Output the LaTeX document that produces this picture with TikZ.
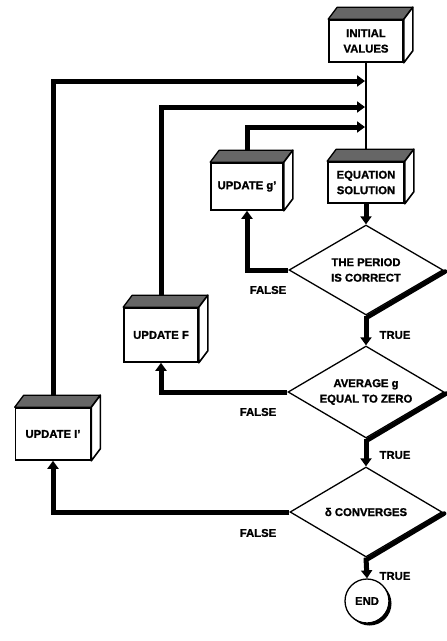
\documentclass[tikz,border=0pt]{standalone}
\usepackage{fontspec}
\setmainfont{Liberation Sans}[BoldFeatures={FakeBold=1.3}]
\usetikzlibrary{arrows.meta,shapes.geometric,calc}
\newcommand\mythreed[1]{%
  \filldraw[line width=1.3pt, fill=black!60, line join=round] (#1.north west) -- ++(9,-12) -- ($(#1.north east)+(9,-12)$) -- (#1.north east) -- cycle;
  \filldraw[line width=1.6pt, fill=white, line join=round] (#1.north east) -- ++(9,-12) -- ($(#1.south east)+(9,-12)$) -- (#1.south east) -- cycle;}
\begin{document}
\begin{tikzpicture}[x=1pt,y=-1pt,
  txt/.style={font=\fontsize{11.3}{15.5}\selectfont\bfseries, align=center},
  box/.style={txt, draw, line width=1.6pt, fill=white, inner sep=0pt},
  dec/.style={diamond, txt, draw, line width=1.3pt, fill=white, inner sep=0pt, aspect=1.7},
  flow/.style={line width=5pt, -{Triangle[width=11pt,length=8pt]}},
  shadowline/.style={line width=4.5pt, line cap=round}]
\useasboundingbox (0,0) rectangle (447,641);
% process boxes
\node[box, minimum width=74pt, minimum height=42pt] (init) at (366,41) {INITIAL\\VALUES};
\node[box, minimum width=76pt, minimum height=41pt] (eq) at (366,182.5) {EQUATION\\SOLUTION};
\node[box, minimum width=72pt, minimum height=47pt] (ug) at (247,186.5) {UPDATE g'};
\node[box, minimum width=74pt, minimum height=54pt] (uf) at (161,335) {UPDATE F};
\node[box, minimum width=75pt, minimum height=52pt] (ui) at (53,434) {UPDATE I'};
% decisions
\node[dec, minimum width=154pt, minimum height=90pt] (d1) at (366,270) {THE PERIOD\\IS CORRECT};
\node[dec, minimum width=156pt, minimum height=92pt] (d2) at (366,392) {AVERAGE g\\EQUAL TO ZERO};
\node[dec, minimum width=152pt, minimum height=90pt] (d3) at (366,512) {δ CONVERGES};
\draw[shadowline] ([shift={(1.5,1.5)}]d1.east) -- ([shift={(1.5,1.5)}]d1.south);
\draw[shadowline] ([shift={(1.5,1.5)}]d2.east) -- ([shift={(1.5,1.5)}]d2.south);
\draw[shadowline] ([shift={(1.5,1.5)}]d3.east) -- ([shift={(1.5,1.5)}]d3.south);
% end
\fill (369.5,603.5) circle (22pt);
\node[circle, draw, line width=1.3pt, fill=white, minimum size=44pt, txt, inner sep=0pt] (end) at (367,601) {END};
% main line and free ends
\coordinate (m1) at (365,81);
\coordinate (m2) at (365,107);
\coordinate (m3) at (365,127);
\draw[line width=2.5pt] (init.south) -- (eq.north);
\draw[flow] (eq.south) -- (d1.north);
\draw[flow] (d1.south) -- (d2.north);
\draw[flow] (d2.south) -- (d3.north);
\draw[flow] (d3.south) -- (end.north);
% false branches
\draw[flow] (d1.west) -| (ug.south);
\draw[flow] (d2.west) -| (uf.south);
\draw[flow] (d3.west) -| (ui.south);
% feedback loops
\draw[flow] (ui.north) |- (m1);
\draw[flow] (uf.north) |- (m2);
\draw[flow] (ug.north) |- (m3);
% 3D faces
\mythreed{init}
\mythreed{eq}
\mythreed{ug}
\mythreed{uf}
\mythreed{ui}
% labels
\node[txt] (f1) at (268,290) {FALSE};
\node[txt] (f2) at (258,412) {FALSE};
\node[txt] (f3) at (258,533) {FALSE};
\node[txt] (t1) at (395,335) {TRUE};
\node[txt] (t2) at (395,455) {TRUE};
\node[txt] (t3) at (395,576) {TRUE};
\end{tikzpicture}
\end{document}
